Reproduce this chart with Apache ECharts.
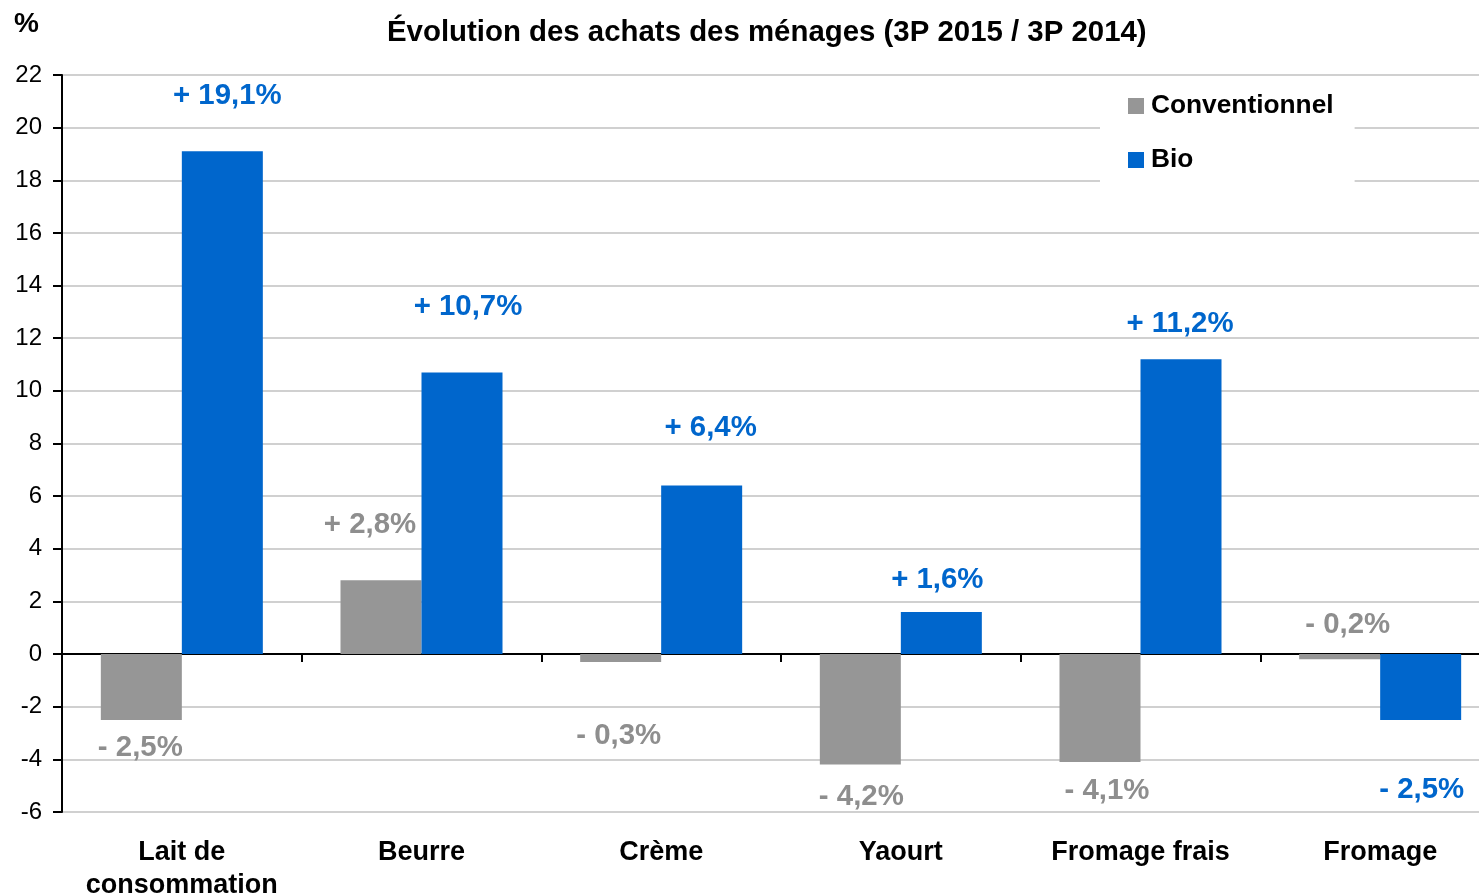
<!DOCTYPE html>
<html>
<head>
<meta charset="utf-8">
<script src="https://cdn.jsdelivr.net/npm/echarts@6/dist/echarts.min.js"></script>
<style>
html,body{margin:0;padding:0;background:#fff;}
#chart{width:1479px;height:896px;}
</style>
</head>
<body>
<div id="chart"></div>
<script>
var categories = ['Lait de\nconsommation', 'Beurre', 'Crème', 'Yaourt', 'Fromage frais', 'Fromage'];
var conventionnel = [-2.5, 2.8, -0.3, -4.2, -4.1, -0.2];
var bio = [19.1, 10.7, 6.4, 1.6, 11.2, -2.5];
var yTicks = { min: -6, max: 22, interval: 2 };

// label placement (style only)
var convLabelPos = ['bottom', 'top', 'bottom', 'bottom', 'bottom', 'top'];
var convLabelOffset = [[-1, 14.5], [-11, -41.5], [-2, 59.5], [1, 18.5], [7, 14.5], [8, -15.5]];
var bioLabelPos = ['top', 'top', 'top', 'top', 'top', 'bottom'];
var bioLabelOffset = [[5, -41.5], [6, -51.5], [9, -43.5], [-4, -18.5], [-1, -21.5], [1, 56.5]];

var FONT = '"Liberation Sans", Arial, sans-serif';
var GRAY = '#969696', GRAY_TXT = '#8e8e8e', BLUE = '#0066cc';

function fmt(v) {
  var s = Math.abs(v).toFixed(1).replace('.', ',');
  return (v < 0 ? '- ' : '+ ') + s + '%';
}

function buildData(values, pos, off, color) {
  return values.map(function (v, i) {
    return {
      value: v,
      label: {
        show: true,
        position: pos[i],
        distance: 0,
        offset: off[i],
        formatter: fmt(v),
        color: color,
        fontSize: 29.4,
        lineHeight: 28,
        fontWeight: 'bold',
        fontFamily: FONT
      }
    };
  });
}

var chart = echarts.init(document.getElementById('chart'), null, { renderer: 'canvas' });
chart.setOption({
  animation: false,
  backgroundColor: '#fff',
  title: [
    {
      text: 'Évolution des achats des ménages (3P 2015 / 3P 2014)',
      left: 382, top: 13,
      textStyle: { fontFamily: FONT, fontSize: 29.4, fontWeight: 'bold', color: '#000' }
    },
    {
      text: '%',
      left: 9, top: 5,
      textStyle: { fontFamily: FONT, fontSize: 28, fontWeight: 'bold', color: '#000' }
    }
  ],
  legend: {
    orient: 'vertical',
    left: 1100, top: 78,
    backgroundColor: '#fff',
    padding: [15, 21, 16, 28],
    itemWidth: 16, itemHeight: 16,
    itemGap: 28,
    icon: 'rect',
    textStyle: { fontFamily: FONT, fontSize: 26.3, fontWeight: 'bold', color: '#000', padding: [0, 0, 0, 2] },
    data: ['Conventionnel', 'Bio']
  },
  grid: { left: 62, right: -21, top: 75, bottom: 84, containLabel: false, outerBoundsMode: 'none' },
  xAxis: [
    {
      type: 'category',
      data: categories,
      position: 'bottom',
      axisLine: { show: false, onZero: false },
      axisTick: { show: false },
      axisLabel: {
        margin: 24, fontFamily: FONT, fontSize: 27, fontWeight: 'bold', color: '#000', lineHeight: 33, interval: 0
      },
      splitLine: { show: false }
    },
    {
      type: 'category',
      data: categories,
      position: 'bottom',
      axisLine: { show: true, onZero: true, lineStyle: { color: '#000', width: 2 } },
      axisTick: { show: true, length: 8, lineStyle: { color: '#000', width: 2 } },
      axisLabel: { show: false },
      splitLine: { show: false }
    }
  ],
  yAxis: {
    type: 'value',
    min: yTicks.min, max: yTicks.max, interval: yTicks.interval,
    axisLine: { show: true, lineStyle: { color: '#000', width: 2 } },
    axisTick: { show: true, length: 9, lineStyle: { color: '#000', width: 2 } },
    axisLabel: { margin: 20, fontFamily: FONT, fontSize: 24, color: '#000' },
    splitLine: { show: true, lineStyle: { color: '#c0c0c0', width: 1.5 } }
  },
  series: [
    {
      name: 'Conventionnel',
      type: 'bar',
      xAxisIndex: 0,
      barWidth: 81,
      barGap: '0%',
      itemStyle: { color: GRAY },
      data: buildData(conventionnel, convLabelPos, convLabelOffset, GRAY_TXT),
      z: 2
    },
    {
      name: 'Bio',
      type: 'bar',
      xAxisIndex: 0,
      barWidth: 81,
      barGap: '0%',
      itemStyle: { color: BLUE },
      data: buildData(bio, bioLabelPos, bioLabelOffset, BLUE),
      z: 2
    }
  ]
});
</script>
</body>
</html>
